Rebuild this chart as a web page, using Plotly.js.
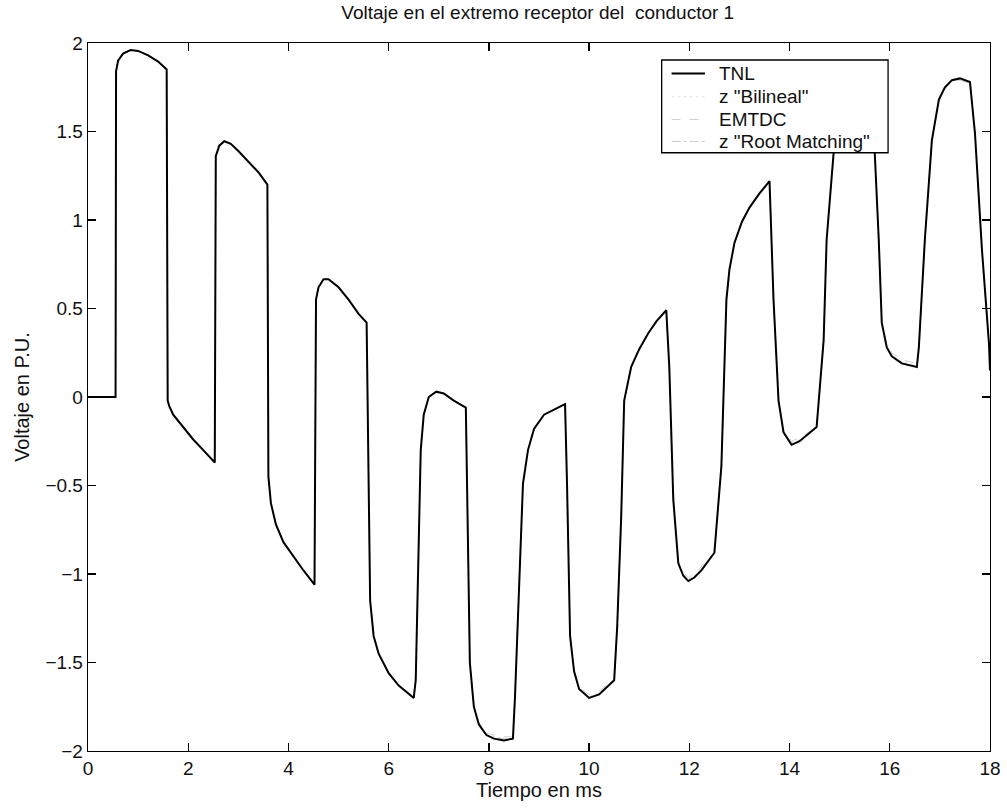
<!DOCTYPE html>
<html>
<head>
<meta charset="utf-8">
<script src="https://cdn.plot.ly/plotly-3.0.1.min.js"></script>
<style>html,body{margin:0;padding:0;background:#fff;}#chart{width:1007px;height:808px;}</style>
</head>
<body>
<div id="chart"></div>
<script>
// Tiempo (ms)
const tiempo = [0,0.55,0.56,0.6,0.7,0.85,1.0,1.2,1.4,1.57,
  1.59,1.62,1.7,1.9,2.1,2.3,2.53,
  2.55,2.62,2.72,2.85,3.0,3.2,3.4,3.58,
  3.6,3.65,3.75,3.9,4.1,4.3,4.52,
  4.55,4.6,4.7,4.8,5.0,5.2,5.4,5.56,
  5.6,5.63,5.7,5.8,6.0,6.2,6.5,
  6.54,6.64,6.7,6.8,6.95,7.1,7.3,7.54,
  7.56,7.62,7.7,7.8,7.95,8.1,8.3,8.48,
  8.52,8.68,8.78,8.9,9.1,9.3,9.52,
  9.56,9.62,9.7,9.8,10.0,10.2,10.5,
  10.56,10.64,10.7,10.84,11.0,11.18,11.35,11.54,
  11.6,11.68,11.78,11.88,11.98,12.1,12.24,12.5,
  12.58,12.64,12.74,12.8,12.9,13.05,13.2,13.4,13.6,
  13.68,13.78,13.88,14.04,14.2,14.54,
  14.6,14.68,14.74,14.88,15.0,15.2,15.45,15.6,15.7,
  15.78,15.84,15.94,16.04,16.24,16.54,
  16.58,16.7,16.84,16.98,17.1,17.24,17.4,17.6,
  17.7,17.84,17.92,17.98,18.0];

const tnl = [0,0,1.84,1.9,1.94,1.96,1.955,1.93,1.895,1.85,
  -0.02,-0.05,-0.1,-0.17,-0.24,-0.3,-0.37,
  1.36,1.42,1.445,1.43,1.39,1.33,1.27,1.2,
  -0.45,-0.6,-0.72,-0.82,-0.9,-0.98,-1.06,
  0.55,0.62,0.665,0.665,0.62,0.55,0.47,0.42,
  -0.5,-1.15,-1.35,-1.45,-1.56,-1.63,-1.7,
  -1.6,-0.3,-0.1,0.0,0.03,0.02,-0.02,-0.06,
  -0.5,-1.5,-1.75,-1.85,-1.91,-1.93,-1.94,-1.93,
  -1.7,-0.49,-0.3,-0.18,-0.1,-0.07,-0.04,
  -0.5,-1.35,-1.55,-1.65,-1.7,-1.68,-1.6,
  -1.3,-0.68,-0.02,0.17,0.27,0.36,0.43,0.49,
  0.17,-0.58,-0.94,-1.01,-1.04,-1.02,-0.98,-0.88,
  -0.6,-0.39,0.55,0.72,0.87,0.99,1.07,1.15,1.22,
  0.55,-0.02,-0.2,-0.27,-0.25,-0.17,
  0.05,0.32,0.89,1.38,1.6,1.72,1.74,1.65,1.38,
  0.89,0.42,0.28,0.23,0.19,0.17,
  0.28,0.89,1.45,1.68,1.75,1.79,1.8,1.78,
  1.49,0.83,0.5,0.3,0.15];

const bilineal = [0,0,1.84,1.9,1.94,1.96,1.955,1.93,1.895,1.85,
  -0.02,-0.05,-0.1,-0.17,-0.24,-0.3,-0.37,
  1.36,1.42,1.445,1.43,1.39,1.33,1.27,1.2,
  -0.45,-0.6,-0.72,-0.82,-0.9,-0.98,-1.06,
  0.55,0.62,0.665,0.665,0.62,0.55,0.47,0.42,
  -0.5,-1.15,-1.35,-1.45,-1.56,-1.63,-1.7,
  -1.6,-0.3,-0.1,0.0,0.03,0.02,-0.02,-0.06,
  -0.5,-1.5,-1.75,-1.85,-1.91,-1.92,-1.93,-1.93,
  -1.7,-0.49,-0.3,-0.18,-0.1,-0.07,-0.04,
  -0.5,-1.35,-1.55,-1.65,-1.69,-1.67,-1.6,
  -1.3,-0.68,-0.02,0.17,0.27,0.36,0.43,0.49,
  0.17,-0.58,-0.94,-1.0,-1.03,-1.01,-0.97,-0.88,
  -0.6,-0.39,0.55,0.72,0.87,0.99,1.07,1.15,1.22,
  0.55,-0.02,-0.2,-0.26,-0.24,-0.17,
  0.05,0.32,0.89,1.38,1.6,1.72,1.74,1.65,1.38,
  0.89,0.42,0.29,0.24,0.2,0.18,
  0.28,0.89,1.45,1.68,1.75,1.79,1.79,1.77,
  1.49,0.83,0.5,0.3,0.15];

const emtdc = [0,0,1.84,1.9,1.94,1.96,1.955,1.93,1.895,1.85,
  -0.02,-0.05,-0.1,-0.17,-0.24,-0.3,-0.37,
  1.36,1.42,1.445,1.43,1.39,1.33,1.27,1.2,
  -0.45,-0.6,-0.72,-0.82,-0.9,-0.98,-1.06,
  0.55,0.62,0.66,0.66,0.62,0.55,0.47,0.42,
  -0.5,-1.15,-1.35,-1.45,-1.56,-1.63,-1.69,
  -1.6,-0.3,-0.1,0.0,0.03,0.02,-0.02,-0.06,
  -0.5,-1.5,-1.74,-1.84,-1.9,-1.91,-1.92,-1.92,
  -1.7,-0.49,-0.3,-0.18,-0.1,-0.07,-0.04,
  -0.5,-1.35,-1.55,-1.64,-1.68,-1.66,-1.6,
  -1.3,-0.68,-0.02,0.17,0.27,0.36,0.43,0.49,
  0.17,-0.58,-0.93,-0.99,-1.02,-1.0,-0.96,-0.88,
  -0.6,-0.39,0.55,0.72,0.87,0.99,1.07,1.15,1.22,
  0.55,-0.02,-0.19,-0.25,-0.23,-0.17,
  0.05,0.32,0.89,1.38,1.6,1.72,1.74,1.65,1.38,
  0.89,0.42,0.3,0.25,0.21,0.19,
  0.28,0.89,1.45,1.67,1.74,1.78,1.79,1.77,
  1.49,0.83,0.5,0.3,0.15];

const rootMatching = [0,0,1.84,1.9,1.94,1.96,1.955,1.93,1.895,1.85,
  -0.02,-0.05,-0.1,-0.17,-0.24,-0.3,-0.37,
  1.36,1.42,1.445,1.43,1.39,1.33,1.27,1.2,
  -0.45,-0.6,-0.72,-0.82,-0.9,-0.98,-1.06,
  0.55,0.62,0.665,0.665,0.62,0.55,0.47,0.42,
  -0.5,-1.15,-1.35,-1.45,-1.56,-1.63,-1.7,
  -1.6,-0.3,-0.1,0.0,0.03,0.02,-0.02,-0.06,
  -0.5,-1.5,-1.75,-1.85,-1.91,-1.93,-1.93,-1.93,
  -1.7,-0.49,-0.3,-0.18,-0.1,-0.07,-0.04,
  -0.5,-1.35,-1.55,-1.65,-1.7,-1.68,-1.6,
  -1.3,-0.68,-0.02,0.17,0.27,0.36,0.43,0.49,
  0.17,-0.58,-0.94,-1.01,-1.04,-1.02,-0.98,-0.88,
  -0.6,-0.39,0.55,0.72,0.87,0.99,1.07,1.15,1.22,
  0.55,-0.02,-0.2,-0.27,-0.25,-0.17,
  0.05,0.32,0.89,1.38,1.6,1.72,1.74,1.65,1.38,
  0.89,0.42,0.28,0.23,0.19,0.17,
  0.28,0.89,1.45,1.68,1.75,1.79,1.8,1.78,
  1.49,0.83,0.5,0.3,0.15];

const nombres = ['TNL', 'z "Bilineal"', 'EMTDC', 'z "Root Matching"'];
const xTicks = [0,2,4,6,8,10,12,14,16,18];
const yTicks = [-2,-1.5,-1,-0.5,0,0.5,1,1.5,2];
const yTickText = ['\u22122','\u22121.5','\u22121','\u22120.5','0','0.5','1','1.5','2'];

const FONT = 'Liberation Sans, Arial, Helvetica, sans-serif';
const TXT = '#111';

const estilos = [
  {color: '#000000', width: 2, dash: 'solid'},
  {color: '#e0e0e0', width: 1, dash: 'dot'},
  {color: '#d0d0d0', width: 1, dash: 'dash'},
  {color: '#c8c8c8', width: 1, dash: 'dashdot'}
];
const series = [tnl, bilineal, emtdc, rootMatching];

// draw faint series first, TNL on top
const traces = [3, 2, 1, 0].map(i => ({
  x: tiempo, y: series[i], name: nombres[i], mode: 'lines',
  line: estilos[i], showlegend: false
}));

// MATLAB-style legend box (paper coordinates)
const lg = {x0: 0.636, x1: 0.887, y0: 0.845, y1: 0.976,
            sx0: 0.647, sx1: 0.684, tx: 0.697,
            rows: [0.957, 0.924, 0.892, 0.861]};

const shapes = [
  {type: 'rect', xref: 'paper', yref: 'paper', x0: lg.x0, x1: lg.x1, y0: lg.y0, y1: lg.y1,
   line: {color: '#000', width: 1.3}, fillcolor: '#ffffff', layer: 'above'}
].concat(nombres.map((n, i) => ({
  type: 'line', xref: 'paper', yref: 'paper', x0: lg.sx0, x1: lg.sx1, y0: lg.rows[i], y1: lg.rows[i],
  line: estilos[i], layer: 'above'
})));

const annotations = nombres.map((n, i) => ({
  text: n, xref: 'paper', yref: 'paper', x: lg.tx, y: lg.rows[i],
  xanchor: 'left', yanchor: 'middle', showarrow: false,
  font: {family: FONT, size: 19, color: TXT}
}));

const layout = {
  width: 1007, height: 808,
  margin: {l: 88, r: 17, t: 43, b: 57},
  paper_bgcolor: '#ffffff', plot_bgcolor: '#ffffff',
  font: {family: FONT, size: 19, color: TXT},
  title: {text: 'Voltaje en el extremo receptor del&nbsp; conductor 1',
          font: {family: FONT, size: 19, color: TXT},
          x: 0.534, xanchor: 'center', y: 0.993, yanchor: 'top'},
  xaxis: {range: [0, 18], tickvals: xTicks, ticktext: xTicks.map(String),
          showgrid: false, zeroline: false, showline: true, linecolor: '#000', linewidth: 1.3,
          mirror: 'ticks', ticks: 'inside', ticklen: 8, tickcolor: '#000', tickwidth: 1.3,
          tickfont: {family: FONT, size: 19, color: TXT},
          title: {text: 'Tiempo en ms', font: {family: FONT, size: 20, color: TXT}, standoff: 0}},
  yaxis: {range: [-2, 2], tickvals: yTicks, ticktext: yTickText,
          showgrid: false, zeroline: false, showline: true, linecolor: '#000', linewidth: 1.3,
          mirror: 'ticks', ticks: 'inside', ticklen: 8, tickcolor: '#000', tickwidth: 1.3,
          tickfont: {family: FONT, size: 19, color: TXT},
          title: {text: 'Voltaje en P.U.', font: {family: FONT, size: 20, color: TXT}, standoff: 10}},
  showlegend: false,
  shapes: shapes,
  annotations: annotations
};

Plotly.newPlot('chart', traces, layout, {displayModeBar: false, staticPlot: true});
</script>
</body>
</html>
